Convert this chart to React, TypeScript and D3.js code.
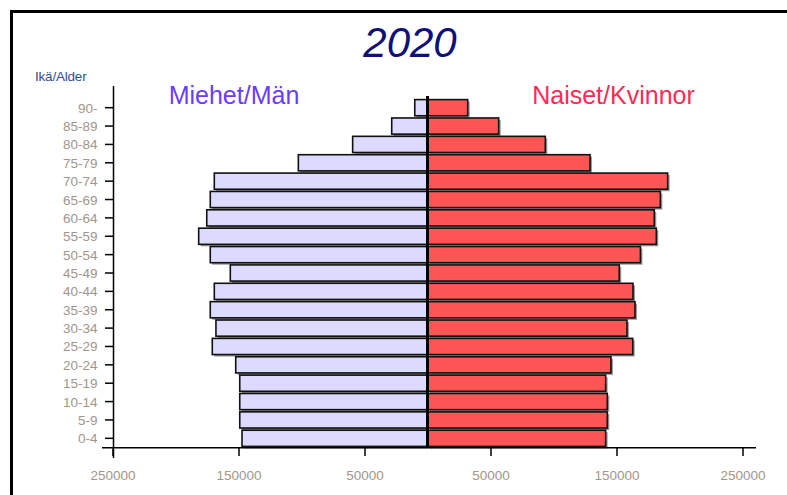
import React from "react";
import * as d3 from "d3";

const ageGroups = ["90-", "85-89", "80-84", "75-79", "70-74", "65-69", "60-64", "55-59", "50-54", "45-49", "40-44", "35-39", "30-34", "25-29", "20-24", "15-19", "10-14", "5-9", "0-4"];
const men = [10500, 28800, 59800, 102900, 169600, 172800, 175600, 182000, 172800, 156900, 169600, 172800, 168300, 171200, 152600, 149400, 149400, 149400, 147600];
const women = [31500, 56100, 93100, 128600, 190200, 184400, 179600, 181200, 168600, 151800, 162700, 164300, 157900, 162500, 145200, 141000, 142300, 142300, 141000];
const tickValues = [250000, 150000, 50000];
const title = "2020";
const menLabel = "Miehet/Män";
const womenLabel = "Naiset/Kvinnor";
const yAxisTitle = "Ikä/Alder";

export default function App() {
  const W = 787, H = 495;
  const zero = 428;
  const xLeft = d3.scaleLinear().domain([0, 250000]).range([zero, zero - 315]);
  const xRight = d3.scaleLinear().domain([0, 250000]).range([zero, zero + 315]);
  const y = d3.scaleBand<string>().domain(ageGroups).range([98.5, 447.5]).paddingInner(0.12).paddingOuter(0.06);
  const bh = y.bandwidth();
  const font = "'Liberation Sans', Arial, sans-serif";
  const tickColor = "#a39588";
  return (
    <svg width={W} height={H} style={{ position: "absolute", left: 0, top: 0, background: "#fff" }}>
      <rect x={11.5} y={11.5} width={W + 20} height={H + 20} fill="#fff" stroke="#000" strokeWidth={3} />
      <text x={410} y={57} textAnchor="middle" fontFamily={font} fontStyle="italic" fontSize={42} fill="#10107a">{title}</text>
      <text x={234} y={104} textAnchor="middle" fontFamily={font} fontSize={25} fill="#6a3cff">{menLabel}</text>
      <text x={613.5} y={104} textAnchor="middle" fontFamily={font} fontSize={25} fill="#ff2a55">{womenLabel}</text>
      <text x={35} y={81} fontFamily={font} fontSize={13.5} fill="#3a4a90" letterSpacing={-0.2}>{yAxisTitle}</text>
      {/* shadows */}
      {ageGroups.map((g, i) => (
        <g key={"s" + g}>
          <rect x={xLeft(men[i]) + 2} y={(y(g) as number) + 2} width={zero - xLeft(men[i]) - 2} height={bh} fill="#9a9a9a" />
          <rect x={zero + 2} y={(y(g) as number) + 2} width={xRight(women[i]) - zero} height={bh} fill="#9a9a9a" />
        </g>
      ))}
      {ageGroups.map((g, i) => (
        <g key={"b" + g}>
          <rect x={xLeft(men[i])} y={y(g)} width={zero - xLeft(men[i])} height={bh} fill="#dcdaff" stroke="#111" strokeWidth={1.6} />
          <rect x={zero} y={y(g)} width={xRight(women[i]) - zero} height={bh} fill="#ff5555" stroke="#111" strokeWidth={1.6} />
        </g>
      ))}
      <line x1={zero - 0.5} x2={zero - 0.5} y1={96} y2={448} stroke="#000" strokeWidth={3} />
      {/* y axis */}
      <line x1={113.5} x2={113.5} y1={86} y2={458} stroke="#000" strokeWidth={1.5} />
      {ageGroups.map((g) => {
        const cy = (y(g) as number) + bh / 2;
        return (
          <g key={"t" + g}>
            <line x1={105} x2={113.5} y1={cy} y2={cy} stroke="#000" strokeWidth={1.5} />
            <text x={97.5} y={cy + 5} textAnchor="end" fontFamily={font} fontSize={13.5} fill={tickColor}>{g}</text>
          </g>
        );
      })}
      {/* x axis */}
      <line x1={102} x2={756} y1={447.8} y2={447.8} stroke="#000" strokeWidth={1.5} />
      {tickValues.map((v) => (
        <g key={"l" + v}>
          <line x1={xLeft(v)} x2={xLeft(v)} y1={447.8} y2={456} stroke="#000" strokeWidth={1.5} />
          <text x={xLeft(v)} y={480} textAnchor="middle" fontFamily={font} fontSize={13.5} fill={tickColor}>{v}</text>
        </g>
      ))}
      {tickValues.map((v) => (
        <g key={"r" + v}>
          <line x1={xRight(v)} x2={xRight(v)} y1={447.8} y2={456} stroke="#000" strokeWidth={1.5} />
          <text x={xRight(v)} y={480} textAnchor="middle" fontFamily={font} fontSize={13.5} fill={tickColor}>{v}</text>
        </g>
      ))}
    </svg>
  );
}
